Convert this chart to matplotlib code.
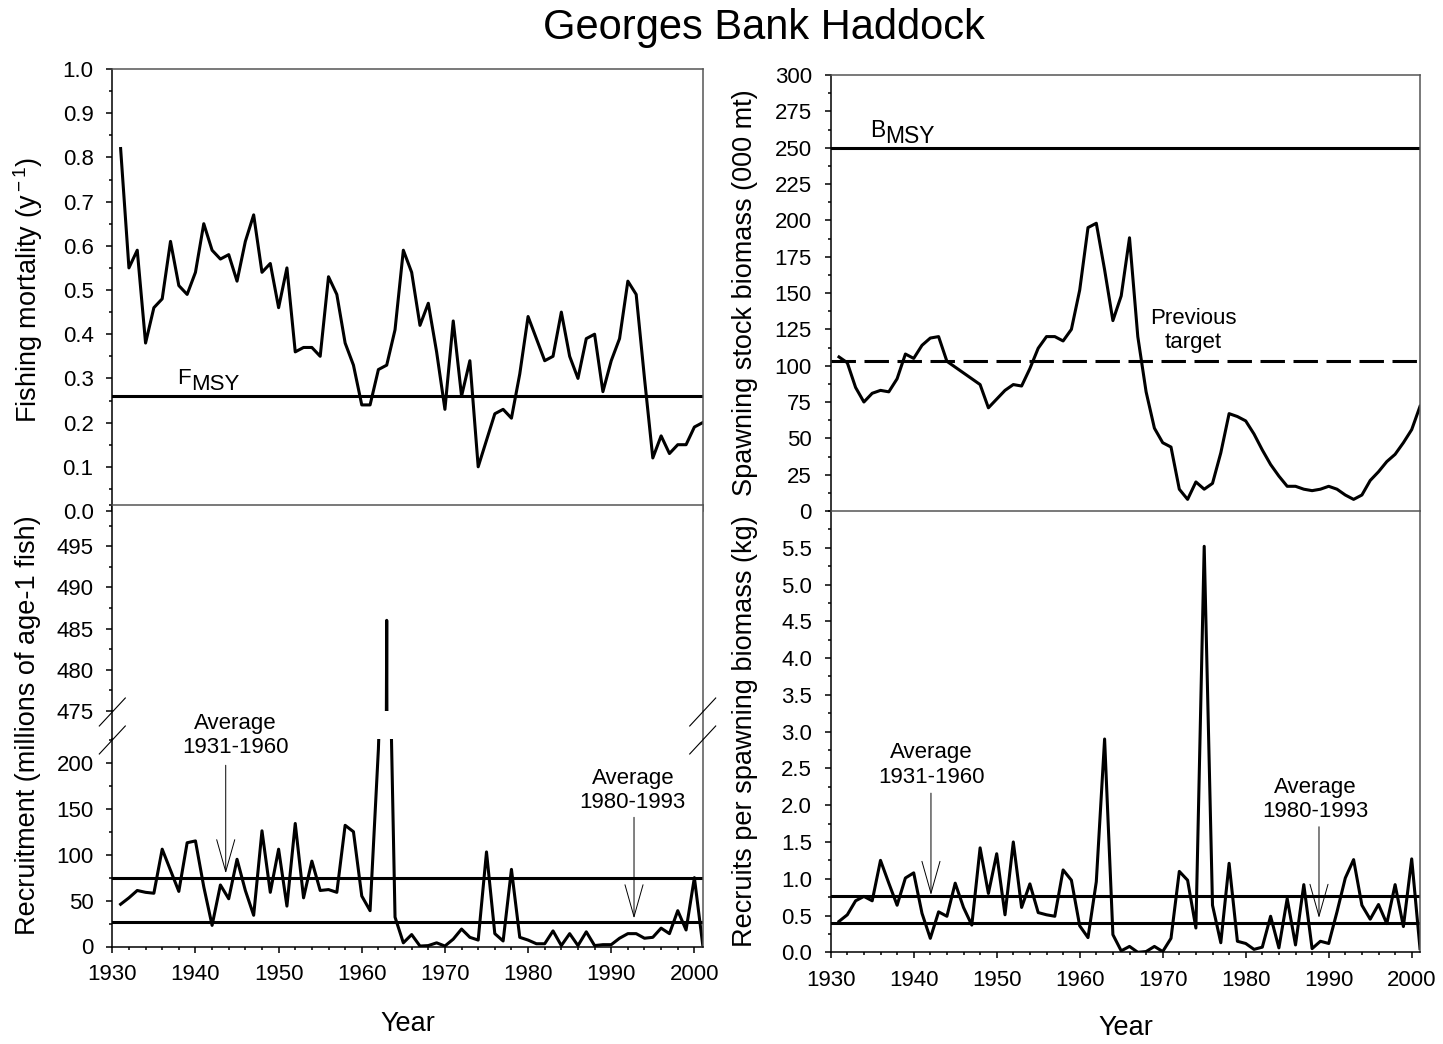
import numpy as np
import matplotlib.pyplot as plt
from matplotlib.ticker import MultipleLocator, FormatStrFormatter
from matplotlib.lines import Line2D

plt.rcParams['font.family'] = ['Liberation Sans', 'DejaVu Sans']
plt.rcParams['mathtext.fontset'] = 'custom'
plt.rcParams['mathtext.rm'] = 'Liberation Sans'
plt.rcParams['mathtext.it'] = 'Liberation Sans:italic'

# data, 1931-2001
years = np.arange(1931, 2002)
fishing_mortality = [0.82, 0.55, 0.59, 0.38, 0.46, 0.48, 0.61, 0.51, 0.49, 0.54,
                     0.65, 0.59, 0.57, 0.58, 0.52, 0.61, 0.67, 0.54, 0.56, 0.46,
                     0.55, 0.36, 0.37, 0.37, 0.35, 0.53, 0.49, 0.38, 0.33, 0.24,
                     0.24, 0.32, 0.33, 0.41, 0.59, 0.54, 0.42, 0.47, 0.36, 0.23,
                     0.43, 0.26, 0.34, 0.10, 0.16, 0.22, 0.23, 0.21, 0.31, 0.44,
                     0.39, 0.34, 0.35, 0.45, 0.35, 0.30, 0.39, 0.40, 0.27, 0.34,
                     0.39, 0.52, 0.49, 0.30, 0.12, 0.17, 0.13, 0.15, 0.15, 0.19, 0.20]
ssb = [106, 102, 85, 75, 81, 83, 82, 91, 108, 105,
       114, 119, 120, 103, 99, 95, 91, 87, 71, 77,
       83, 87, 86, 98, 112, 120, 120, 117, 125, 152,
       195, 198, 166, 131, 148, 188, 120, 82, 57, 47,
       44, 15, 8, 20, 15, 19, 40, 67, 65, 62,
       53, 42, 32, 24, 17, 17, 15, 14, 15, 17,
       15, 11, 8, 11, 21, 27, 34, 39, 47, 56, 72]
recruitment = [46, 53, 61, 59, 58, 106, 83, 60, 113, 115,
               65, 23, 67, 52, 95, 61, 34, 126, 59, 106,
               44, 134, 53, 93, 61, 62, 59, 132, 125, 55,
               39, 215, 486, 32, 4, 13, 0.5, 1, 4, 0.5,
               8, 19, 10, 7, 103, 14, 6, 84, 10, 7,
               3, 3, 17, 1, 14, 1, 16, 1, 2, 2,
               9, 14, 14, 9, 10, 20, 14, 39, 18, 75, 2]
recruits_per_ssb = [0.42, 0.51, 0.70, 0.76, 0.70, 1.25, 0.94, 0.64, 1.01, 1.08,
                    0.53, 0.19, 0.55, 0.49, 0.94, 0.61, 0.37, 1.42, 0.80, 1.34,
                    0.51, 1.50, 0.61, 0.93, 0.54, 0.51, 0.49, 1.12, 0.98, 0.36,
                    0.20, 0.96, 2.90, 0.24, 0.02, 0.08, 0.00, 0.01, 0.08, 0.01,
                    0.19, 1.10, 0.98, 0.33, 5.52, 0.64, 0.13, 1.21, 0.15, 0.12,
                    0.04, 0.07, 0.49, 0.06, 0.73, 0.10, 0.92, 0.05, 0.15, 0.12,
                    0.55, 1.01, 1.26, 0.64, 0.45, 0.65, 0.39, 0.92, 0.35, 1.27, 0.05]

f_msy = 0.26
b_msy = 250
previous_target = 103
rec_avg_early, rec_avg_late = 75, 27
rps_avg_early, rps_avg_late = 0.76, 0.40

W, H = 1443, 1044
FRAME = '#555555'
LW = 2.2

fig = plt.figure(figsize=(W / 100, H / 100), dpi=100)


def box(x0, y0, x1, y1):
    # pixel box (top-left origin) -> figure fraction rect
    return [x0 / W, 1 - y1 / H, (x1 - x0) / W, (y1 - y0) / H]


def px(x, y):
    return x / W, 1 - y / H


def style(ax, top=True, bottom=True, xlabels=False):
    ax.set_xlim(1930, 2001)
    ax.spines['top'].set_visible(top)
    ax.spines['bottom'].set_visible(bottom)
    for s in ['top', 'right']:
        ax.spines[s].set_color(FRAME)
        ax.spines[s].set_linewidth(1.1)
    for s in ['left', 'bottom']:
        ax.spines[s].set_color('black')
        ax.spines[s].set_linewidth(1.1)
    ax.xaxis.set_major_locator(MultipleLocator(10))
    ax.xaxis.set_minor_locator(MultipleLocator(2))
    ax.tick_params(which='both', direction='out', top=False, right=False,
                   labelsize=16, width=1.1)
    ax.tick_params(which='major', length=4.5)
    ax.tick_params(which='minor', length=2.5)
    ax.tick_params(axis='y', pad=9)
    ax.tick_params(axis='x', pad=8)
    if not xlabels:
        ax.tick_params(axis='x', which='both', bottom=False, labelbottom=False)


ax_f = fig.add_axes(box(112.3, 69, 702.7, 511))
ax_b = fig.add_axes(box(830.7, 75, 1420, 511))
ax_ru = fig.add_axes(box(112.3, 505, 702.7, 711))
ax_rl = fig.add_axes(box(112.3, 739, 702.7, 946.5))
ax_rs = fig.add_axes(box(830.7, 511, 1420, 952.3))

# fishing mortality
style(ax_f, bottom=False)
ax_f.plot(years, fishing_mortality, color='black', lw=LW)
ax_f.axhline(f_msy, color='black', lw=LW)
ax_f.set_ylim(0, 1.0)
ax_f.set_yticks(np.arange(0, 1.01, 0.1))
ax_f.yaxis.set_minor_locator(MultipleLocator(0.05))
ax_f.yaxis.set_major_formatter(FormatStrFormatter('%.1f'))
ax_f.text(1937.8, 0.287, 'F', fontsize=16, va='baseline')
ax_f.text(1939.45, 0.274, 'MSY', fontsize=16, va='baseline')

# spawning stock biomass
style(ax_b, bottom=False)
ax_b.plot(years, ssb, color='black', lw=LW)
ax_b.axhline(b_msy, color='black', lw=LW)
ax_b.axhline(previous_target, color='black', lw=LW, ls=(0, (8, 2.8)))
ax_b.set_ylim(0, 300)
ax_b.set_yticks(np.arange(0, 301, 25))
ax_b.yaxis.set_minor_locator(MultipleLocator(12.5))
ax_b.text(1934.7, 257.1, 'B', fontsize=16.5, va='baseline')
ax_b.text(1936.55, 253.4, 'MSY', fontsize=16.5, va='baseline')
ax_b.text(1973.65, 124.2, 'Previous\ntarget', fontsize=16, ha='center', va='center',
          linespacing=1.15)

# recruitment, broken axis
style(ax_ru, bottom=False)
ax_ru.plot(years, recruitment, color='black', lw=LW)
ax_ru.set_ylim(475, 500)
ax_ru.set_yticks(np.arange(475, 496, 5))
ax_ru.yaxis.set_minor_locator(MultipleLocator(2.5))

style(ax_rl, top=False, xlabels=True)
ax_rl.plot(years, recruitment, color='black', lw=LW)
ax_rl.axhline(rec_avg_early, color='black', lw=LW)
ax_rl.axhline(rec_avg_late, color='black', lw=LW)
ax_rl.set_ylim(0, 226)
ax_rl.set_yticks(np.arange(0, 201, 50))
ax_rl.yaxis.set_minor_locator(MultipleLocator(25))

arrow = dict(arrowstyle='->,head_length=2.3,head_width=0.65', mutation_scale=10,
             color='black', lw=0.7, shrinkA=0, shrinkB=0)
ax_rl.text(1944.76, 230.2, 'Average\n1931-1960', fontsize=16, ha='center', va='center',
           linespacing=1.2, clip_on=False)
ax_rl.annotate('', xy=(1943.64, 79.6), xytext=(1943.64, 197.4), arrowprops=arrow,
               annotation_clip=False)
ax_rl.text(1992.6, 170.2, 'Average\n1980-1993', fontsize=16, ha='center', va='center',
           linespacing=1.2)
ax_rl.annotate('', xy=(1992.74, 30.5), xytext=(1992.74, 140.7), arrowprops=arrow)

# recruits per spawning biomass
style(ax_rs, xlabels=True)
ax_rs.plot(years, recruits_per_ssb, color='black', lw=LW)
ax_rs.axhline(rps_avg_early, color='black', lw=LW)
ax_rs.axhline(rps_avg_late, color='black', lw=LW)
ax_rs.set_ylim(0, 6)
ax_rs.set_yticks(np.arange(0, 5.51, 0.5))
ax_rs.yaxis.set_minor_locator(MultipleLocator(0.25))
ax_rs.yaxis.set_major_formatter(FormatStrFormatter('%.1f'))
ax_rs.text(1942.17, 2.546, 'Average\n1931-1960', fontsize=16, ha='center', va='center',
           linespacing=1.2)
ax_rs.annotate('', xy=(1942.08, 0.778), xytext=(1942.08, 2.164), arrowprops=arrow)
ax_rs.text(1988.43, 2.076, 'Average\n1980-1993', fontsize=16, ha='center', va='center',
           linespacing=1.2)
ax_rs.annotate('', xy=(1988.83, 0.466), xytext=(1988.83, 1.707), arrowprops=arrow)

# join the spines across the gap and draw the break marks
for xc, col in [(112.3, 'black'), (702.7, FRAME)]:
    fig.add_artist(Line2D(*zip(px(xc, 711), px(xc, 739)), color=col, lw=1.1,
                          transform=fig.transFigure))
    for yc in (712, 740):
        fig.add_artist(Line2D(*zip(px(xc - 13, yc + 14), px(xc + 13, yc - 14)),
                              color='black', lw=0.8, transform=fig.transFigure))

# labels
fig.text(*px(763.5, 28), 'Georges Bank Haddock', fontsize=30, ha='center', va='center')
fig.text(*px(28, 290), r'Fishing mortality (y$^{\rm -1}$)', fontsize=19.5,
         rotation=90, ha='center', va='center')
fig.text(*px(28, 725.5), 'Recruitment (millions of age-1 fish)', fontsize=19.5,
         rotation=90, ha='center', va='center')
fig.text(*px(745, 293), 'Spawning stock biomass (000 mt)', fontsize=19.5,
         rotation=90, ha='center', va='center')
fig.text(*px(745, 731.6), 'Recruits per spawning biomass (kg)', fontsize=19.5,
         rotation=90, ha='center', va='center')
fig.text(*px(407.5, 1024), 'Year', fontsize=19.5, ha='center', va='center')
fig.text(*px(1125.4, 1028), 'Year', fontsize=19.5, ha='center', va='center')

fig.savefig('out.png', dpi=100)
